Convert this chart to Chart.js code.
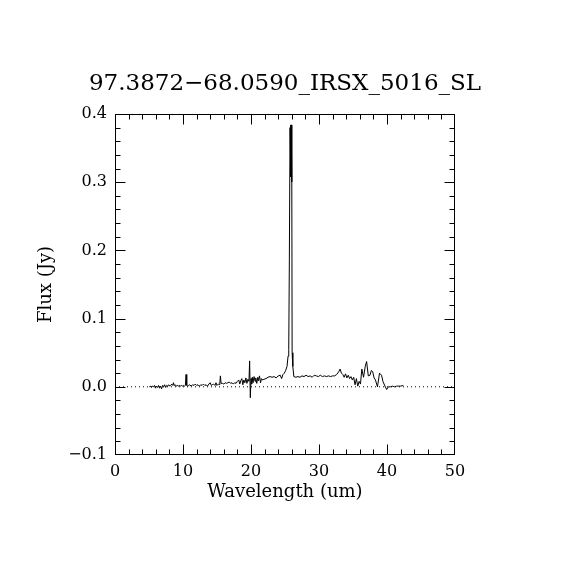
<!DOCTYPE html>
<html><head><meta charset="utf-8">
<script src="https://cdn.jsdelivr.net/npm/chart.js@4.4.1/dist/chart.umd.min.js"></script>
<style>html,body{margin:0;padding:0;background:#fff}canvas{display:block}</style>
</head><body>
<canvas id="c" width="570" height="570"></canvas>
<script>
const titleText = "97.3872\u221268.0590_IRSX_5016_SL";
const xLabel = "Wavelength (um)";
const yLabel = "Flux (Jy)";
const xTicks = [0, 10, 20, 30, 40, 50];
const yTicks = [-0.1, 0.0, 0.1, 0.2, 0.3, 0.4];
const zeroLineX = [0, 50];
const zeroLineY = [0, 0];

const wavelength = [
 5.05,5.2,5.35,5.5,5.65,5.8,5.95,6.1,6.25,6.4,6.55,6.7,6.85,7.0,7.15,7.3,7.45,7.6,7.75,7.9,
 8.05,8.2,8.35,8.5,8.6,8.7,8.85,9.0,9.15,9.3,9.45,9.6,9.75,9.9,10.05,10.2,10.35,10.45,10.55,10.7,
 10.85,11.0,11.2,11.4,11.6,11.8,12.0,12.2,12.4,12.6,12.8,13.0,13.2,13.4,13.6,13.8,14.0,14.15,14.3,14.5,
 14.7,14.85,15.0,15.2,15.4,15.5,15.6,15.8,16.0,16.2,16.4,16.6,16.8,17.0,17.2,17.4,17.6,17.8,18.0,18.2,
 18.35,18.5,18.65,18.8,18.95,19.1,19.25,19.4,19.55,19.7,19.8,19.9,20.0,20.1,20.2,20.3,20.45,20.6,20.7,20.85,
 21.0,21.1,21.25,21.4,21.55,21.7,21.9,22.2,22.5,22.8,23.1,23.4,23.7,24.0,24.3,24.5,24.7,24.9,25.1,25.3,
 25.45,25.55,25.64,25.74,25.82,25.88,25.93,26.0,26.05,26.15,26.3,26.6,26.9,27.2,27.5,27.8,28.1,28.4,28.7,29.0,
 29.3,29.6,29.9,30.2,30.5,30.8,31.1,31.4,31.7,32.0,32.3,32.6,32.9,33.1,33.3,33.5,33.7,33.9,34.1,34.3,
 34.5,34.7,34.9,35.1,35.3,35.5,35.7,35.9,36.1,36.3,36.55,36.8,37.0,37.25,37.5,37.7,37.9,38.1,38.3,38.6,
 38.9,39.2,39.4,39.7,39.95,40.2,40.5,40.8,41.1,41.4,41.7,42.0,42.4
];
const flux = [
 0.000,0.001,-0.001,0.001,0.000,0.002,-0.002,0.001,-0.001,0.002,-0.002,0.001,-0.003,0.002,0.000,0.003,-0.001,0.002,0.001,0.003,
 0.001,0.002,0.004,0.002,0.006,0.002,0.003,0.001,0.002,0.001,0.002,0.001,0.002,0.001,0.002,0.001,0.002,0.018,0.002,0.001,
 0.002,0.003,0.001,0.003,0.002,0.004,0.002,0.003,0.001,0.003,0.002,0.004,0.002,0.003,0.001,0.004,0.006,0.002,0.003,0.004,
 0.002,0.006,0.002,0.004,0.003,0.016,0.005,0.005,0.004,0.006,0.005,0.006,0.007,0.005,0.006,0.004,0.006,0.005,0.008,0.010,
 0.004,0.009,0.012,0.003,0.010,0.006,0.013,0.005,0.011,0.008,0.038,-0.016,0.012,0.004,0.014,0.006,0.015,0.008,0.013,0.005,
 0.014,0.009,0.016,0.006,0.012,0.010,0.011,0.012,0.014,0.015,0.014,0.015,0.013,0.016,0.017,0.012,0.018,0.020,0.024,0.030,
 0.045,0.055,0.186,0.380,0.384,0.308,0.384,0.300,0.050,0.030,0.015,0.014,0.015,0.014,0.016,0.015,0.017,0.015,0.016,0.014,
 0.017,0.016,0.015,0.017,0.015,0.016,0.015,0.016,0.015,0.016,0.016,0.018,0.022,0.026,0.020,0.018,0.014,0.019,0.013,0.017,
 0.012,0.015,0.010,0.014,0.003,0.012,0.001,0.008,0.004,0.026,0.014,0.030,0.037,0.016,0.017,0.024,0.022,0.013,0.010,0.000,
 0.020,0.017,0.008,0.001,-0.004,0.000,0.000,0.001,0.000,0.001,0.001,0.001,0.002
];

const FONT = 'DejaVu Serif';

const frame = {
  id: 'frame',
  afterDatasetsDraw(chart) {
    const {ctx, chartArea: a, scales: {x, y}} = chart;
    ctx.save();
    ctx.strokeStyle = '#000';
    ctx.lineWidth = 1;
    const L = Math.round(a.left) + 0.5, R = Math.round(a.right) - 0.5;
    const T = Math.round(a.top) + 0.5, B = Math.round(a.bottom) - 0.5;
    const clamp = (v, lo, hi) => Math.min(hi, Math.max(lo, v));
    ctx.strokeRect(L, T, R - L, B - T);
    ctx.beginPath();
    for (let v = 0; v <= 50; v += 2) {
      const px = clamp(Math.round(x.getPixelForValue(v)) + 0.5, L, R);
      const len = (v % 10 === 0) ? 10 : 5;
      ctx.moveTo(px, B); ctx.lineTo(px, B - len);
      ctx.moveTo(px, T); ctx.lineTo(px, T + len);
    }
    for (let i = -5; i <= 20; i++) {
      const v = i * 0.02;
      const py = clamp(Math.round(y.getPixelForValue(v)) + 0.5, T, B);
      const len = (i % 5 === 0) ? 10 : 5;
      ctx.moveTo(L, py); ctx.lineTo(L + len, py);
      ctx.moveTo(R, py); ctx.lineTo(R - len, py);
    }
    ctx.stroke();
    ctx.restore();
  }
};

new Chart(document.getElementById('c'), {
  type: 'scatter',
  data: {
    datasets: [
      {
        data: wavelength.map((w, i) => ({x: w, y: flux[i]})),
        showLine: true, borderColor: '#000', borderWidth: 1, pointRadius: 0, tension: 0
      },
      {
        data: zeroLineX.map((w, i) => ({x: w, y: zeroLineY[i]})),
        showLine: true, borderColor: '#000', borderWidth: 1, borderDash: [1, 3], pointRadius: 0
      }
    ]
  },
  options: {
    responsive: false, animation: false, devicePixelRatio: 1,
    layout: {padding: 0},
    plugins: {
      legend: {display: false},
      tooltip: {enabled: false},
      title: {
        display: true, text: titleText, color: '#000',
        font: {family: FONT, size: 23, weight: 'normal', lineHeight: 1.2},
        padding: {top: 70.2, bottom: 16.2}
      }
    },
    scales: {
      x: {
        type: 'linear', min: 0, max: 50,
        afterBuildTicks(s) { s.ticks = xTicks.map(v => ({value: v})); },
        grid: {display: false, drawTicks: false},
        border: {display: false},
        ticks: {color: '#000', font: {family: FONT, size: 16}, padding: 7, maxRotation: 0,
                callback: v => String(v)},
        title: {display: true, text: xLabel, color: '#000', font: {family: FONT, size: 18, lineHeight: 1.2},
                padding: {top: 0, bottom: 67.2}},
        afterFit(s) { s.height = 115; }
      },
      y: {
        type: 'linear', min: -0.1, max: 0.4,
        afterBuildTicks(s) { s.ticks = yTicks.map(v => ({value: v})); },
        grid: {display: false, drawTicks: false},
        border: {display: false},
        ticks: {color: '#000', font: {family: FONT, size: 16}, padding: 8,
                callback: v => (v < -1e-9 ? '\u2212' : '') + Math.abs(v).toFixed(1)},
        title: {display: true, text: yLabel, color: '#000', font: {family: FONT, size: 18, lineHeight: 1.2},
                padding: {top: 35.2, bottom: 0}},
        afterFit(s) { s.width = 115; }
      },
      yRight: {
        type: 'linear', position: 'right', min: -0.1, max: 0.4,
        grid: {display: false, drawTicks: false},
        border: {display: false},
        ticks: {display: false},
        afterFit(s) { s.width = 115; }
      }
    }
  },
  plugins: [frame]
});
</script>
</body></html>
